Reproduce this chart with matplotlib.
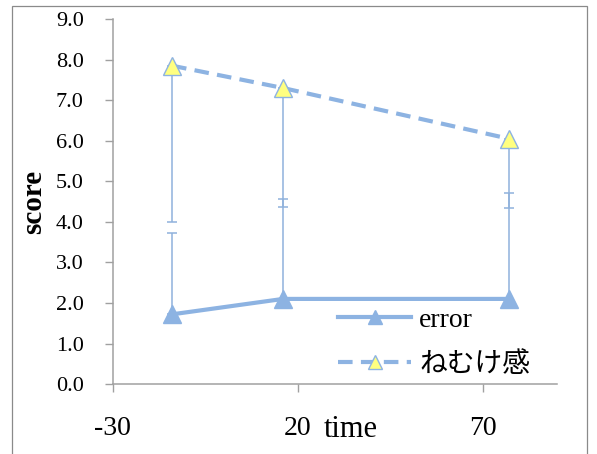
import matplotlib
matplotlib.use("Agg")
import matplotlib.pyplot as plt
from matplotlib.patches import Rectangle

# measurement times and mean scores
time = [-14, 16, 77]
error_mean = [1.72, 2.1, 2.1]
error_sd = [2.0, 2.47, 2.6]          # drawn upward only
sleepy_mean = [7.85, 7.3, 6.05]
sleepy_sd = [3.85, 2.93, 1.7]        # drawn downward only

x_ticks = [-30, 20, 70]
y_ticks = [0, 1, 2, 3, 4, 5, 6, 7, 8, 9]

blue = "#8db3e2"
bar_blue = "#8fb2dc"
yellow = "#ffff80"
serif = ["Liberation Serif", "Noto Sans CJK JP"]

plt.rcParams["font.family"] = serif
plt.rcParams["axes.unicode_minus"] = False

fig = plt.figure(figsize=(5.97, 4.54), dpi=100)
ax = fig.add_axes([0.189, 0.154, 0.744, 0.804])

# chart frame
fig.patches.append(Rectangle((0.02, -0.05), 0.963, 1.037, transform=fig.transFigure,
                             fill=False, edgecolor="#8a8a8a", linewidth=0.9))

# error bars
ax.errorbar(time, error_mean, yerr=[[0, 0, 0], error_sd], fmt="none",
            ecolor=bar_blue, elinewidth=1.1, capsize=3.5, capthick=1.1, zorder=2)
ax.errorbar(time, sleepy_mean, yerr=[sleepy_sd, [0, 0, 0]], fmt="none",
            ecolor=bar_blue, elinewidth=1.1, capsize=3.5, capthick=1.1, zorder=2)

ax.plot(time, error_mean, color=blue, linewidth=3, marker="^", markersize=13,
        markerfacecolor=blue, markeredgecolor=blue, label="error", zorder=3)
ax.plot(time, sleepy_mean, color=blue, linewidth=3, dashes=(3.5, 2), marker="^",
        markersize=13, markerfacecolor=yellow, markeredgecolor=blue,
        markeredgewidth=1, label="ねむけ感", zorder=3)

ax.set_xlim(-30, 90)
ax.set_ylim(0, 9)
ax.set_xticks(x_ticks)
ax.set_yticks(y_ticks)
ax.set_yticklabels([f"{v:.1f}" for v in y_ticks])

for side in ["top", "right"]:
    ax.spines[side].set_visible(False)
for side in ["left", "bottom"]:
    ax.spines[side].set_color("#a0a0a0")
    ax.spines[side].set_linewidth(1.1)

ax.tick_params(axis="y", direction="out", length=6, width=1, color="#a0a0a0",
               labelsize=16, pad=15)
ax.tick_params(axis="x", direction="out", length=6, width=1, color="#a0a0a0",
               labelsize=20, pad=17)

ax.set_ylabel("score", fontsize=21, fontweight="bold")
ax.yaxis.set_label_coords(-0.147, 0.5)
ax.set_xlabel("time", fontsize=22)
ax.xaxis.set_label_coords(0.536, -0.125)
ax.xaxis.label.set_va("center")

ax.legend(loc="center left", bbox_to_anchor=(0.508, 0.113), frameon=False,
          fontsize=20, handlelength=2.6, handletextpad=0.3, labelspacing=0.7,
          borderpad=0, borderaxespad=0, numpoints=1, markerscale=0.8)

fig.savefig("out.png", dpi=100)
